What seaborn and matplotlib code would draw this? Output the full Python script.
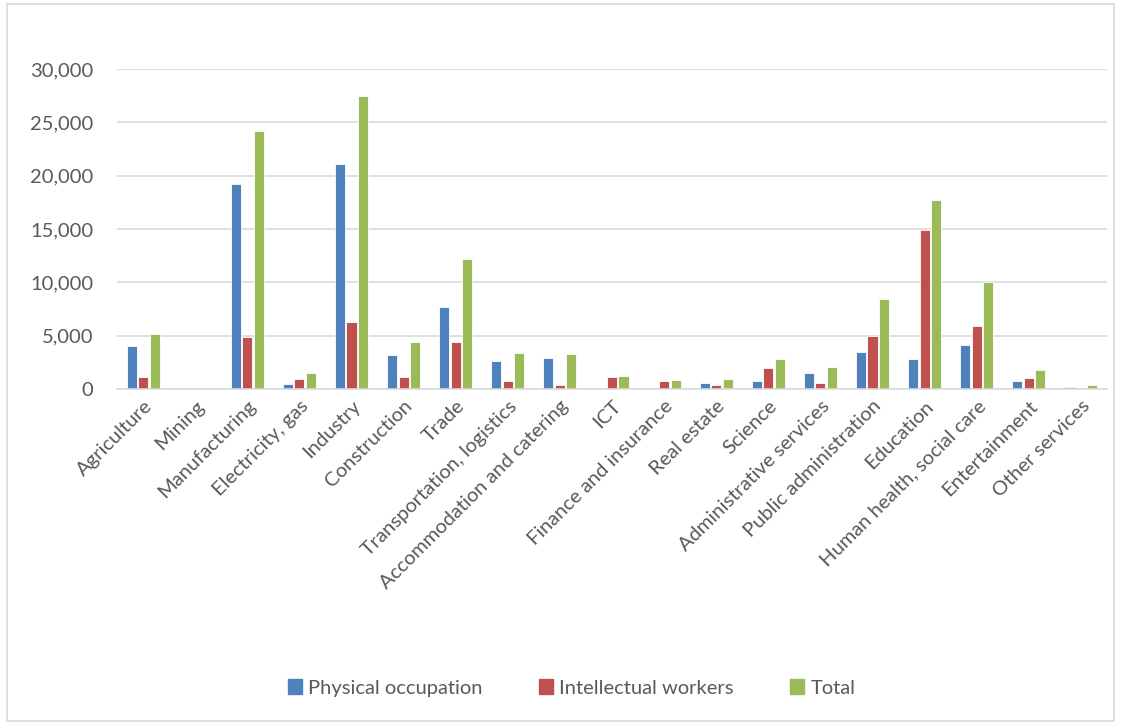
import matplotlib.pyplot as plt
import matplotlib.patches as mpatches
import pandas as pd
import seaborn as sns
from matplotlib.ticker import FuncFormatter

sectors = ["Agriculture", "Mining", "Manufacturing", "Electricity, gas",
           "Industry", "Construction", "Trade", "Transportation, logistics",
           "Accommodation and catering", "ICT", "Finance and insurance",
           "Real estate", "Science", "Administrative services",
           "Public administration", "Education", "Human health, social care",
           "Entertainment", "Other services"]
physical = [4030, 0, 19250, 470, 21050, 3220, 7700, 2600, 2880, 100, 0,
            560, 780, 1500, 3480, 2810, 4100, 720, 190]
intellectual = [1100, 0, 4880, 910, 6290, 1150, 4400, 720, 375, 1100, 720,
                375, 1970, 560, 4970, 14900, 5900, 1030, 125]
total = [5180, 0, 24200, 1470, 27450, 4400, 12170, 3350, 3280, 1220, 815,
         970, 2780, 2060, 8450, 17750, 10050, 1810, 375]
series = ["Physical occupation", "Intellectual workers", "Total"]
colors = ["#4F81BD", "#C0504D", "#9BBB59"]

df = pd.DataFrame({
    "Sector": sectors * 3,
    "Series": [series[0]] * len(sectors) + [series[1]] * len(sectors)
    + [series[2]] * len(sectors),
    "Value": physical + intellectual + total,
})

sns.set_style("white")
plt.rcParams["font.family"] = ["Lato", "DejaVu Sans"]
grey = "#595959"
fs = 14.5

fig = plt.figure(figsize=(11.21, 7.25), dpi=100)
ax = fig.add_axes([0.1044, 0.4634, 0.8831, 0.4414])
sns.barplot(data=df, x="Sector", y="Value", hue="Series", order=sectors,
            hue_order=series, palette=colors, width=0.66, gap=0.12,
            edgecolor="white", linewidth=0.6, saturation=1, ax=ax)

ax.set_ylim(0, 30000)
ax.set_xlim(-0.5, len(sectors) - 0.5)
ax.set_yticks(range(0, 30001, 5000))
ax.yaxis.set_major_formatter(FuncFormatter(lambda v, p: "{:,.0f}".format(v)))
ax.yaxis.grid(True, color="#D9D9D9", linewidth=1.2)
ax.set_axisbelow(True)
for s in ["top", "right", "left"]:
    ax.spines[s].set_visible(False)
ax.spines["bottom"].set_color("#D9D9D9")
ax.spines["bottom"].set_linewidth(1.2)
ax.set_xlabel("")
ax.set_ylabel("")
ax.tick_params(axis="y", length=0, pad=17, labelsize=fs, labelcolor=grey)
ax.tick_params(axis="x", length=0, pad=6, labelsize=fs, labelcolor=grey)
plt.setp(ax.get_xticklabels(), rotation=45, ha="right",
         rotation_mode="anchor")

ax.legend_.remove()
handles = [mpatches.Patch(color=c, label=l) for c, l in zip(colors, series)]
fig.legend(handles=handles, loc="center", bbox_to_anchor=(0.51, 0.051),
           ncol=3, frameon=False, fontsize=fs, labelcolor=grey,
           handlelength=0.7, handleheight=0.7, handletextpad=0.3,
           columnspacing=2.8)

fig.patches.append(mpatches.Rectangle((0.006, 0.006), 0.988, 0.988,
                                      transform=fig.transFigure, fill=False,
                                      edgecolor="#D9D9D9", linewidth=1.2))

fig.savefig("out.png", dpi=100)
